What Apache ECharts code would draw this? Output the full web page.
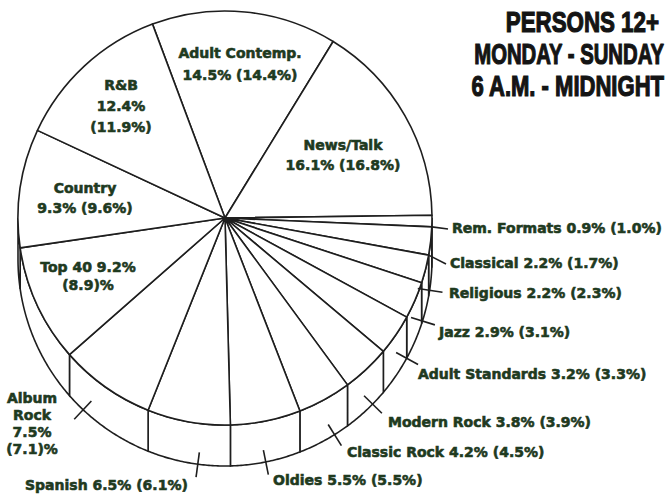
<!DOCTYPE html>
<html>
<head>
<meta charset="utf-8">
<script src="https://cdn.jsdelivr.net/npm/echarts@6/dist/echarts.min.js"></script>
<style>
html, body { margin: 0; padding: 0; background: #fff; }
#chart { width: 665px; height: 495px; }
</style>
</head>
<body>
<div id="chart"></div>
<script>
// format shares, clockwise from the top of the pie
var formats = ['Adult Contemp.', 'News/Talk', 'Rem. Formats', 'Classical', 'Religious', 'Jazz',
  'Adult Standards', 'Modern Rock', 'Classic Rock', 'Oldies', 'Spanish', 'Album Rock',
  'Top 40', 'Country', 'R&B'];
var share = [14.5, 16.1, 0.9, 2.2, 2.2, 2.9, 3.2, 3.8, 4.2, 5.5, 6.5, 7.5, 9.2, 9.3, 12.4];
var sharePrev = [14.4, 16.8, 1.0, 1.7, 2.3, 3.1, 3.3, 3.9, 4.5, 5.5, 6.1, 7.1, 8.9, 9.6, 11.9];
var titleLines = ['PERSONS 12+', 'MONDAY - SUNDAY', '6 A.M. - MIDNIGHT'];

var CX = 225, CY = 218, R = 207, DEPTH = 41, START = 110.5;
var INK = '#1e1e1e', TEXT = '#1f3a1f';
var FONT = 'bold 14px "DejaVu Sans"';

// where each label sits; lead = line out of the slice edge, tick = angle shift of the rim tick
var labelCfg = [
  {x: 240, y: 64, align: 'center', fmt: '{n}\n{v}% ({p}%)', lh: 22},
  {x: 343, y: 155, align: 'center', fmt: '{n}\n{v}% ({p}%)', lh: 20},
  {x: 452, y: 228, align: 'left', fmt: '{n} {v}% ({p}%)', lead: true},
  {x: 450, y: 263, align: 'left', fmt: '{n} {v}% ({p}%)', lead: true},
  {x: 449, y: 293, align: 'left', fmt: '{n} {v}% ({p}%)', tick: -5.6},
  {x: 439, y: 332, align: 'left', fmt: '{n} {v}% ({p}%)', tick: -6},
  {x: 418, y: 374, align: 'left', fmt: '{n} {v}% ({p}%)', tick: -5.7},
  {x: 388, y: 422, align: 'left', fmt: '{n} {v}% ({p}%)', tick: -2.4},
  {x: 347, y: 452, align: 'left', fmt: '{n} {v}% ({p}%)', tick: -3.2},
  {x: 273, y: 480, align: 'left', fmt: '{n} {v}% ({p}%)', tick: 0},
  {x: 25, y: 485, align: 'left', fmt: '{n} {v}% ({p}%)', tick: -2.6},
  {x: 32, y: 423, align: 'center', fmt: '{n}\n{v}%\n({p})%', lh: 17, tick: 8, split: true},
  {x: 88, y: 276, align: 'center', fmt: '{n} {v}%\n({p})%', lh: 18},
  {x: 85, y: 198, align: 'center', fmt: '{n}\n{v}% ({p}%)', lh: 20},
  {x: 121, y: 106, align: 'center', fmt: '{n}\n{v}%\n({p}%)', lh: 21}
];

var total = share.reduce(function (a, b) { return a + b; }, 0);
var angStart = [], angEnd = [];
var acc = 90 - START;
for (var i = 0; i < share.length; i++) {
  angStart.push(acc);
  acc += share[i] / total * 360;
  angEnd.push(acc);
}

function pt(deg, dy) {
  var r = deg * Math.PI / 180;
  return [CX + R * Math.sin(r), CY + (dy || 0) - R * Math.cos(r)];
}

function renderSide(params) {
  var i = params.dataIndex;
  var a0 = Math.max(angStart[i], 90), a1 = Math.min(angEnd[i], 270);
  if (a1 <= a0) return null;
  var top = [], bottom = [];
  var n = Math.max(2, Math.ceil((a1 - a0) / 0.5));
  for (var k = 0; k <= n; k++) {
    var a = a0 + (a1 - a0) * k / n;
    top.push(pt(a, 0));
    bottom.unshift(pt(a, DEPTH));
  }
  return {
    type: 'polygon',
    shape: {points: top.concat(bottom)},
    style: {fill: '#fff', stroke: INK, lineWidth: 1.6}
  };
}

function labelText(i) {
  var c = labelCfg[i];
  var name = c.split ? formats[i].replace(' ', '\n') : formats[i];
  return c.fmt.replace('{n}', name)
    .replace('{v}', share[i].toFixed(1))
    .replace('{p}', sharePrev[i].toFixed(1));
}

function renderLabel(params) {
  var i = params.dataIndex;
  var c = labelCfg[i];
  var children = [{
    type: 'text',
    x: c.x, y: c.y,
    style: {
      text: labelText(i), font: FONT, fill: TEXT, stroke: TEXT, lineWidth: 0.6,
      align: c.align, verticalAlign: 'middle', lineHeight: c.lh || 18
    }
  }];
  if (c.lead) {
    var p = pt(angEnd[i], 0);
    children.push({type: 'line', shape: {x1: p[0], y1: p[1], x2: c.x - 4, y2: c.y + 1},
      style: {stroke: INK, lineWidth: 1.6}});
  } else if (c.tick !== undefined) {
    var a = (angStart[i] + angEnd[i]) / 2 + c.tick;
    var q = pt(a, DEPTH);
    var ux = Math.sin(a * Math.PI / 180), uy = -Math.cos(a * Math.PI / 180);
    children.push({type: 'line',
      shape: {x1: q[0] - 12 * ux, y1: q[1] - 12 * uy, x2: q[0] + 13 * ux, y2: q[1] + 13 * uy},
      style: {stroke: INK, lineWidth: 1.6}});
  }
  return {type: 'group', children: children};
}

var chart = echarts.init(document.getElementById('chart'), null, {renderer: 'svg'});
var titleY = [22, 54, 86], titleX = [659, 664, 664], titleScale = [0.77, 0.70, 0.76];
chart.setOption({
  animation: false,
  backgroundColor: '#fff',
  graphic: titleLines.map(function (t, k) {
    return {
      type: 'text', x: titleX[k], y: titleY[k], scaleX: titleScale[k],
      style: {text: t, font: 'bold 29px "Liberation Sans"', fill: '#141414',
        stroke: '#141414', lineWidth: 1.2, align: 'right', verticalAlign: 'middle'}
    };
  }),
  series: [
    {
      type: 'custom', coordinateSystem: 'none', silent: true, z: 1,
      data: share, renderItem: renderSide
    },
    {
      type: 'pie', silent: true, z: 2,
      center: [CX, CY], radius: R, startAngle: START, clockwise: true,
      label: {show: false}, labelLine: {show: false},
      itemStyle: {color: '#fff', borderColor: INK, borderWidth: 1.6},
      emphasis: {disabled: true},
      data: formats.map(function (f, i) { return {name: f, value: share[i]}; })
    },
    {
      type: 'custom', coordinateSystem: 'none', silent: true, z: 3,
      data: share, renderItem: renderLabel
    }
  ]
});
</script>
</body>
</html>
